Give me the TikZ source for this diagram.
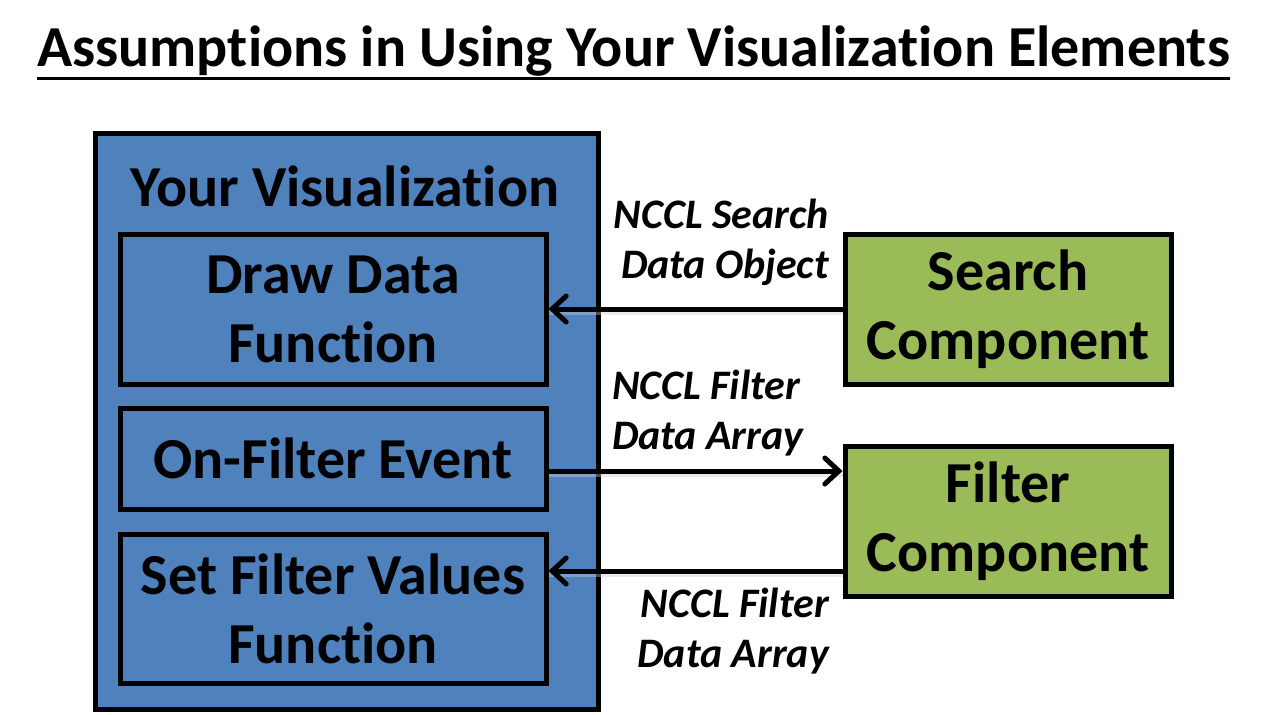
\documentclass[tikz,border=0pt]{standalone}
\usepackage{fontspec}
\setmainfont{Carlito}[Ligatures=NoCommon]
\usetikzlibrary{arrows.meta}
\definecolor{vizblue}{HTML}{4F81BD}
\definecolor{compgreen}{HTML}{9BBB59}
\tikzset{
  box/.style={draw=black, line width=5pt, rectangle, inner sep=0pt, align=center,
    font=\fontsize{58}{69}\selectfont\bfseries},
  vizbox/.style={box, fill=vizblue},
  compbox/.style={box, fill=compgreen},
  msglabel/.style={font=\fontsize{42}{50}\selectfont\bfseries\itshape, inner sep=0pt},
  flow/.style={line width=5pt, -{Straight Barb[length=14pt, width=26pt, line cap=round, line width=5pt]}},
  flowshadow/.style={line width=6pt, black!20, opacity=0.4},
}
\begin{document}
\begin{tikzpicture}[x=1pt, y=-1pt]
\useasboundingbox[fill=white] (0,0) rectangle (1267,715);

% heading
\node[inner sep=0pt, font=\fontsize{58}{62}\selectfont\bfseries] (heading) at (633.5,51)
  {Assumptions in Using Your Visualization Elements};
\draw[line width=3pt] ([yshift=-2pt]heading.south west) -- ([yshift=-2pt]heading.south east);

% visualization container and its parts
\node[vizbox, minimum width=503pt, minimum height=576pt] (viz) at (346.5,421) {};
\node[inner sep=0pt, font=\fontsize{58}{62}\selectfont\bfseries] (viztitle) at (345,186) {Your Visualization};
\node[vizbox, minimum width=426pt, minimum height=150pt] (drawdata) at (333,309) {Draw Data\\Function};
\node[vizbox, minimum width=426pt, minimum height=101pt] (onfilter) at (333,458.5) {On-Filter Event};
\node[vizbox, minimum width=426pt, minimum height=149pt] (setfilter) at (333,608.5) {Set Filter Values\\Function};

% components
\node[compbox, minimum width=326pt, minimum height=150pt] (search) at (1008,309) {Search\\Component};
\node[compbox, minimum width=326pt, minimum height=150pt] (filter) at (1008,521) {Filter\\Component};

% data flows
\coordinate (y2) at (0,471);
\coordinate (y3) at (0,571);
\draw[flowshadow] ([yshift=-3pt]search.west) -- ([yshift=-3pt]drawdata.east);
\draw[flowshadow] ([yshift=-3pt]onfilter.east |- y2) -- ([yshift=-3pt]filter.west |- y2);
\draw[flowshadow] ([yshift=-3pt]filter.west |- y3) -- ([yshift=-3pt]setfilter.east |- y3);
\draw[flow] (search.west) -- (drawdata.east);
\draw[flow] (onfilter.east |- y2) -- (filter.west |- y2);
\draw[flow] (filter.west |- y3) -- (setfilter.east |- y3);

% flow labels
\node[msglabel, anchor=east, align=right] (lab1) at (829,242) {NCCL Search\\Data Object};
\node[msglabel, anchor=west, align=left] (lab2) at (612,413) {NCCL Filter\\Data Array};
\node[msglabel, anchor=east, align=right] (lab3) at (829,631) {NCCL Filter\\Data Array};
\end{tikzpicture}
\end{document}
